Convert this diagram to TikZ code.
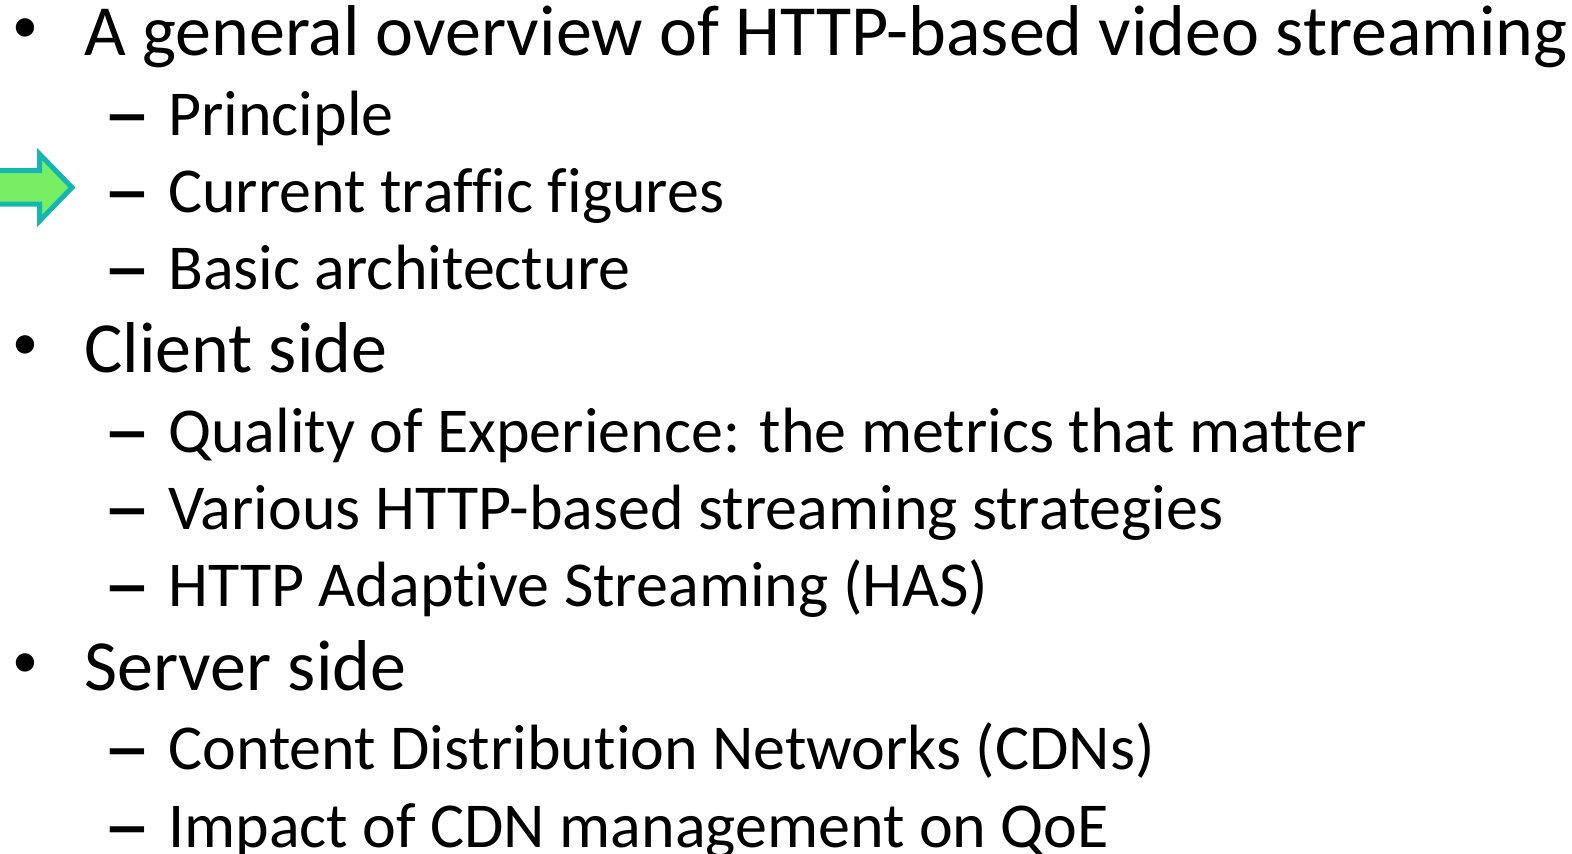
\documentclass[tikz,border=0pt]{standalone}
\usepackage{fontspec}
\setmainfont[Ligatures={NoCommon,NoContextual}]{Carlito}
\definecolor{arrfill}{RGB}{120,238,100}
\definecolor{arrline}{RGB}{22,182,176}
\begin{document}
\begin{tikzpicture}[x=1pt,y=-1pt,
  lvlone/.style={anchor=base west,inner sep=0pt,font=\fontsize{72}{80}\selectfont},
  lvltwo/.style={anchor=base west,inner sep=0pt,font=\fontsize{64}{72}\selectfont},
  bul/.style={anchor=center,inner sep=0pt,font=\fontsize{52}{60}\selectfont},
  dsh/.style={anchor=base west,inner sep=0pt,font=\fontsize{64}{72}\selectfont}]
\useasboundingbox (0,0) rectangle (1572,854);
\clip (0,0) rectangle (1572,854);
% arrow
\draw[fill=arrfill,draw=arrline,line width=5pt,line join=miter]
  (-6,170.5) -- (39.5,170.5) -- (39.5,154) -- (72,187.5) -- (39.5,221) -- (39.5,204) -- (-6,204) -- cycle;
% level 1
\foreach \n/\y/\t in {t1/55/A general overview of HTTP-based video streaming, t2/372/Client side, t3/690/Server side}{
  \node[bul] (b\n) at (25,\y-24) {•};
  \node[lvlone] (\n) at (84,\y) {\t};
}
% level 2
\foreach \n/\y/\t in {s1/135/Principle, s2/212/Current traffic figures, s3/289/Basic architecture,
  s4/452/Quality of Experience: the metrics that matter, s5/529/Various HTTP-based streaming strategies,
  s6/606/HTTP Adaptive Streaming (HAS), s7/769/Content Distribution Networks (CDNs),
  s8/847/Impact of CDN management on QoE}{
  \node[dsh] (d\n) at (103,\y) {\smash{\raisebox{-9pt}{\scalebox{1.5}[1.5]{–}}}};
  \node[lvltwo] (\n) at (168,\y) {\t};
}
\end{tikzpicture}
\end{document}
